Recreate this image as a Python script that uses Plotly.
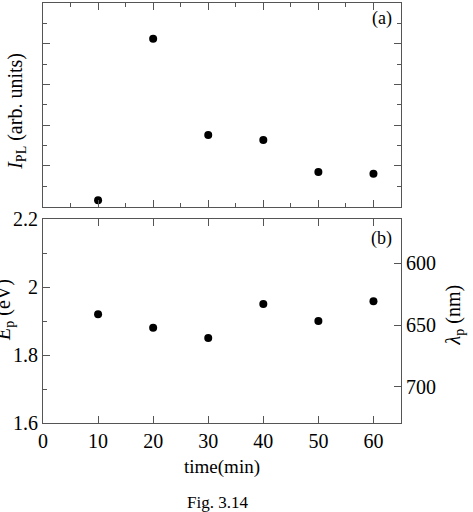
import plotly.graph_objects as go

time_min = [10, 20, 30, 40, 50, 60]
ipl = [0.16, 4.12, 1.76, 1.64, 0.85, 0.81]
ep_ev = [1.92, 1.88, 1.85, 1.95, 1.90, 1.958]
lam_ticks = [600, 650, 700]

FONT = "Liberation Serif"
AX = "#555555"
TF = dict(family=FONT, size=20, color="black")

fig = go.Figure()
fig.add_trace(go.Scatter(x=time_min, y=ipl, mode="markers", xaxis="x", yaxis="y",
                         marker=dict(color="black", size=8), showlegend=False))
fig.add_trace(go.Scatter(x=time_min, y=ep_ev, mode="markers", xaxis="x2", yaxis="y2",
                         marker=dict(color="black", size=8), showlegend=False))
fig.add_trace(go.Scatter(x=[None], y=[None], xaxis="x2", yaxis="y3", showlegend=False))

common_x = dict(range=[0, 65], showline=True, linecolor=AX, linewidth=1.2,
                ticks="inside", tickcolor=AX, ticklen=7, tickwidth=1.2,
                mirror="ticks", dtick=10, tick0=0, showgrid=False, zeroline=False,
                automargin=False, tickfont=TF)

fig.update_layout(
    width=473, height=512,
    margin=dict(l=43, r=72, t=3, b=89),
    paper_bgcolor="white", plot_bgcolor="white",
    font=dict(family=FONT, size=20, color="black"),
    xaxis=dict(**common_x, domain=[0, 1], anchor="y", showticklabels=False,
               minor=dict(ticks="inside", ticklen=4, dtick=5, tickcolor=AX, tickwidth=1.2)),
    yaxis=dict(domain=[0.515, 1.0], range=[0, 5], dtick=1, showticklabels=False,
               showline=True, linecolor=AX, linewidth=1.2, ticks="inside",
               tickcolor=AX, ticklen=7, tickwidth=1.2, mirror="ticks",
               showgrid=False, zeroline=False, automargin=False,
               minor=dict(ticks="inside", ticklen=4, dtick=0.5, tickcolor=AX, tickwidth=1.2)),
    xaxis2=dict(**common_x, domain=[0, 1], anchor="y2", showticklabels=True),
    yaxis2=dict(domain=[0, 0.4857], range=[1.6, 2.2],
                tickvals=[1.6, 1.8, 2.0, 2.2], ticktext=["1.6", "1.8", "2", "2.2"],
                showline=True, linecolor=AX, linewidth=1.2, ticks="inside",
                tickcolor=AX, ticklen=7, tickwidth=1.2, mirror=False,
                showgrid=False, zeroline=False, ticklabelstandoff=0, automargin=False,
                tickfont=TF,
                minor=dict(ticks="inside", ticklen=4, tickvals=[1.7, 1.9, 2.1],
                           tickcolor=AX, tickwidth=1.2)),
    yaxis3=dict(overlaying="y2", side="right", anchor="x2", range=[729.4, 564.1],
                tickvals=lam_ticks, showline=True, linecolor=AX, linewidth=1.2,
                ticks="inside", tickcolor=AX, ticklen=7, tickwidth=1.2,
                showgrid=False, zeroline=False, ticklabelstandoff=0, automargin=False,
                tickfont=TF),
    annotations=[
        dict(text="<i>I</i><sub>PL</sub> (arb. units)", xref="paper", yref="paper",
             x=-0.073, y=0.743, xanchor="center", yanchor="middle",
             textangle=-90, showarrow=False, font=dict(family=FONT, size=20)),
        dict(text="<i>E</i><sub>p</sub> (eV)", xref="paper", yref="paper",
             x=-0.108, y=0.27, xanchor="center", yanchor="middle",
             textangle=-90, showarrow=False, font=dict(family=FONT, size=20)),
        dict(text="<i>λ</i><sub>p</sub> (nm)", xref="paper", yref="paper",
             x=1.149, y=0.257, xanchor="center", yanchor="middle",
             textangle=-90, showarrow=False, font=dict(family=FONT, size=20)),
        dict(text="(a)", xref="paper", yref="paper", x=0.98, y=0.993,
             xanchor="right", yanchor="top", showarrow=False, font=dict(family=FONT, size=18)),
        dict(text="(b)", xref="paper", yref="paper", x=0.98, y=0.47,
             xanchor="right", yanchor="top", showarrow=False, font=dict(family=FONT, size=18)),
        dict(text="time(min)", xref="paper", yref="paper", x=0.5, y=-0.105,
             xanchor="center", yanchor="middle", showarrow=False, font=dict(family=FONT, size=19)),
        dict(text="Fig. 3.14", xref="paper", yref="paper", x=0.487, y=-0.19,
             xanchor="center", yanchor="middle", showarrow=False, font=dict(family=FONT, size=17)),
    ],
)

fig.write_html("out.html")
